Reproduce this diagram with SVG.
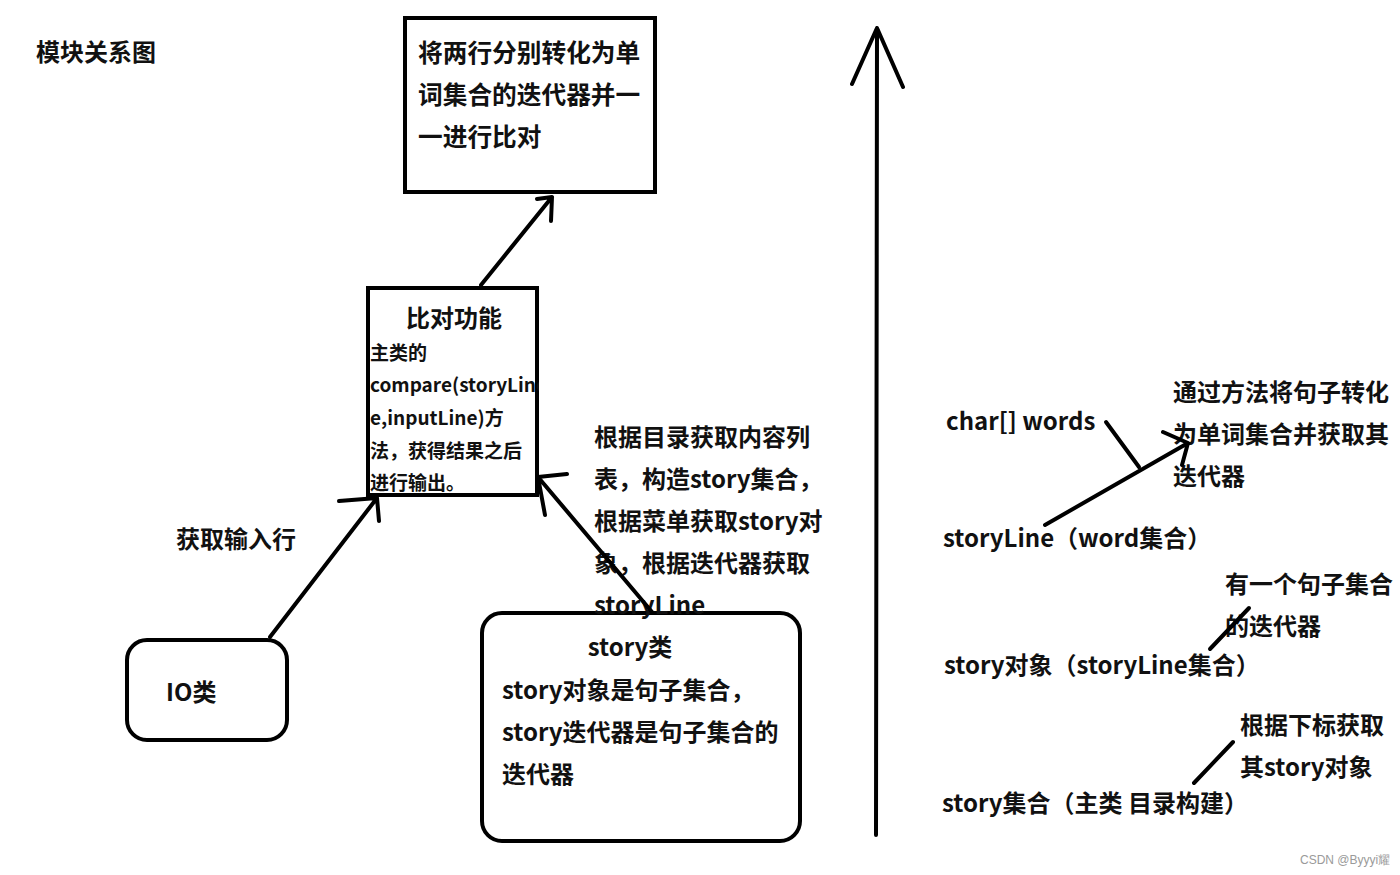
<svg xmlns="http://www.w3.org/2000/svg" width="1400" height="875" viewBox="0 0 1400 875">
<style>
text{font-family:"Microsoft YaHei","Noto Sans CJK SC","Noto Sans",sans-serif;font-weight:bold;fill:#111;}
.t24{font-size:24px;}
.t25{font-size:24.7px;}
.t19{font-size:19px;}
.box{fill:#fff;stroke:#000;stroke-width:4;}
.ln{fill:none;stroke:#000;stroke-width:4;stroke-linecap:round;stroke-linejoin:round;}
.wm{font-family:"Liberation Sans",sans-serif;font-weight:normal;font-size:12px;fill:#9a9a9a;}
</style>
<defs>
<clipPath id="midclip"><rect x="368" y="288" width="171" height="207"/></clipPath>
</defs>
<rect width="1400" height="875" fill="#fff"/>

<g id="title"><text class="t24" x="36" y="61">模块关系图</text></g>

<g id="node-compare-pairs">
<rect class="box" x="405" y="18" width="250" height="174"/>
<text class="t25" x="418" y="62">将两行分别转化为单</text>
<text class="t25" x="418" y="104">词集合的迭代器并一</text>
<text class="t25" x="418" y="146">一进行比对</text>
</g>

<g id="node-compare">
<rect class="box" x="368" y="288" width="169" height="207"/>
<text class="t24" x="454" y="327" text-anchor="middle">比对功能</text>
<g clip-path="url(#midclip)">
<text class="t19" x="370" y="360">主类的</text>
<text class="t19" x="370" y="392">compare(storyLine</text>
<text class="t19" x="370" y="425">e,inputLine)方</text>
<text class="t19" x="370" y="458">法，获得结果之后</text>
<text class="t19" x="370" y="490">进行输出。</text>
</g>
</g>

<g id="node-io">
<rect class="box" x="127" y="640" width="160" height="100" rx="20" ry="20"/>
<text class="t24" x="166" y="701">IO类</text>
</g>

<g id="node-story">
<rect class="box" x="482" y="613" width="318" height="228" rx="20" ry="20"/>
<text class="t24" x="630" y="656" text-anchor="middle">story类</text>
<text class="t24" x="502" y="699">story对象是句子集合，</text>
<text class="t24" x="502" y="741">story迭代器是句子集合的</text>
<text class="t24" x="502" y="783">迭代器</text>
</g>

<g id="labels">
<text class="t24" x="176" y="548">获取输入行</text>
<text class="t24" x="594" y="446">根据目录获取内容列</text>
<text class="t24" x="594" y="488">表，构造story集合，</text>
<text class="t24" x="594" y="530">根据菜单获取story对</text>
<text class="t24" x="594" y="572">象，根据迭代器获取</text>
<text class="t24" x="594" y="614">storyLine</text>

<text class="t24" x="946" y="430">char[] words</text>
<text class="t24" x="1173" y="401">通过方法将句子转化</text>
<text class="t24" x="1173" y="443">为单词集合并获取其</text>
<text class="t24" x="1173" y="485">迭代器</text>
<text class="t24" x="943" y="547">storyLine（word集合）</text>
<text class="t24" x="1225" y="593">有一个句子集合</text>
<text class="t24" x="1225" y="635">的迭代器</text>
<text class="t24" x="944" y="674">story对象（storyLine集合）</text>
<text class="t24" x="1240" y="734">根据下标获取</text>
<text class="t24" x="1240" y="776">其story对象</text>
<text class="t24" x="942" y="812">story集合（主类 目录构建）</text>
</g>

<g id="connectors">
<path class="ln" d="M481,285 L552,197 M537,199 L552,197 L551,221"/>
<path class="ln" d="M270,637 L377,498 M339,501 L377,498 L379,521"/>
<path class="ln" d="M652,612 L538,477 M567,474 L538,477 L545,515"/>
<path class="ln" d="M876,835 L877,28 M852,84 L877,28 L903,87"/>
<path class="ln" d="M1106,422 L1139,467"/>
<path class="ln" d="M1045,525 L1188,443 M1163,432 L1188,443 L1182,465"/>
<path class="ln" d="M1210,649 L1249,608"/>
<path class="ln" d="M1194,783 L1233,742"/>
</g>

<text class="wm" x="1300" y="864">CSDN @Byyyi耀</text>
</svg>
